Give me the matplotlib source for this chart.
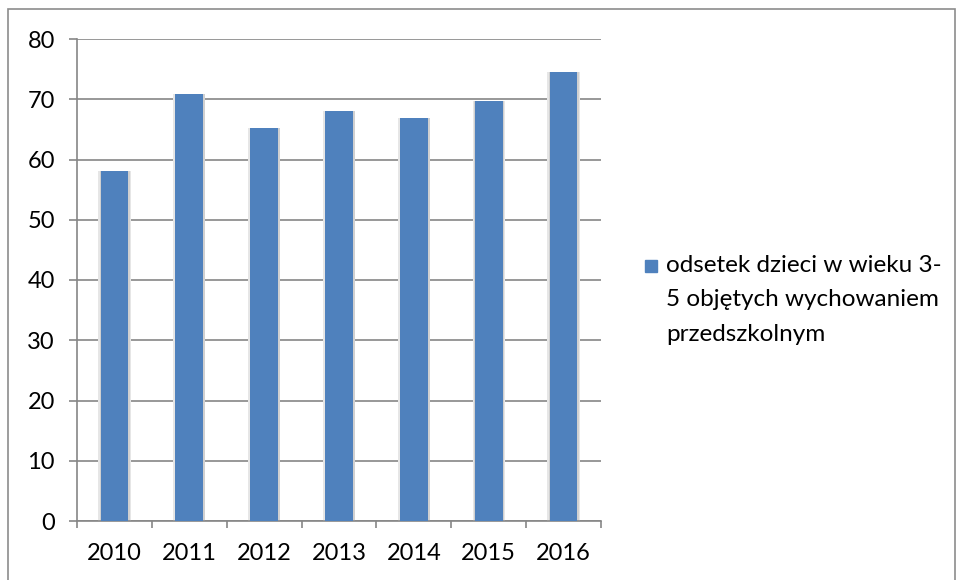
import numpy as np
import matplotlib.pyplot as plt
from matplotlib.patches import Rectangle

# data
years = ['2010', '2011', '2012', '2013', '2014', '2015', '2016']
values = [58.1, 70.8, 65.2, 68.0, 66.9, 69.7, 74.6]
series_name = 'odsetek dzieci w wieku 3-\n5 objętych wychowaniem\nprzedszkolnym'

plt.rcParams['font.family'] = ['Lato', 'DejaVu Sans']
grid_col = '#868686'
bar_col = '#4F81BD'

fig = plt.figure(figsize=(9.59, 5.8), dpi=100)

# outer chart border (bottom edge runs off the picture)
fig.patches.append(Rectangle((8 / 959, -0.05), 947 / 959, 1.05 - 9 / 580,
                             transform=fig.transFigure, fill=False,
                             edgecolor='#8c8c8c', linewidth=1.2))

ax = fig.add_axes([77 / 959, 59 / 580, 524 / 959, 482 / 580])
x = np.arange(len(years))

# soft shadow round each bar
ax.bar(x, values, width=0.43, color='#e6e6e6', zorder=2)
ax.bar(x + 0.01, values, width=0.40, color='#d0d0d0', zorder=2)
ax.bar(x, values, width=0.37, color=bar_col, zorder=3)

ax.set_xlim(-0.5, len(years) - 0.5)
ax.set_ylim(0, 80)
ax.set_yticks(np.arange(0, 81, 10))
ax.yaxis.grid(True, color=grid_col, linewidth=1.2, zorder=1)
ax.set_axisbelow(True)

for s in ['top', 'right']:
    ax.spines[s].set_visible(False)
ax.spines['left'].set_color(grid_col)
ax.spines['bottom'].set_color(grid_col)
ax.spines['left'].set_linewidth(1.2)
ax.spines['bottom'].set_linewidth(1.2)

ax.set_xticks(x)
ax.set_xticklabels(years, fontsize=17)
ax.set_xticks(np.arange(-0.5, len(years)), minor=True)
ax.tick_params(axis='x', which='major', length=0, pad=16)
ax.tick_params(axis='x', which='minor', length=5, color=grid_col, width=1.2)
ax.tick_params(axis='y', length=6, color=grid_col, width=1.2, labelsize=17, pad=10)

# legend on the right: square key aligned with first text line
fig.patches.append(Rectangle((645 / 959, 1 - 272 / 580), 12 / 959, 12 / 580,
                             transform=fig.transFigure, color=bar_col))
fig.text(666 / 959, 1 - 255 / 580, series_name, fontsize=17.5, va='top',
         ha='left', linespacing=1.78)

fig.savefig('out.png', dpi=100)
